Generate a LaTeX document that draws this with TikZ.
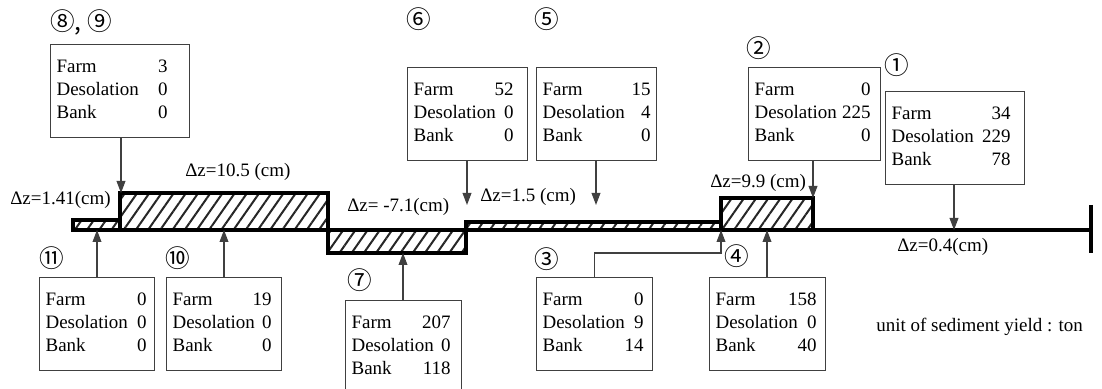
\documentclass[tikz,border=0pt]{standalone}
\usepackage{fontspec}
\setmainfont{Liberation Serif}
\newfontfamily\circfont{Noto Sans CJK SC}
\usetikzlibrary{arrows.meta, patterns.meta}
\newdimen\pxu \pxu=0.25mm
\definecolor{boxline}{HTML}{404040}
\definecolor{hatchcolor}{HTML}{262626}
% one line of a yield table: width, right pad, name, value
\newcommand{\yrow}[4]{\hbox to #1\pxu{#3\hfill #4\hspace*{#2\pxu}}}
% sediment yield table: width, right pad, farm, desolation, bank
\newcommand{\yield}[5]{\begin{tabular}{@{}l@{}}\yrow{#1}{#2}{Farm}{#3}\\\yrow{#1}{#2}{Desolation}{#4}\\\yrow{#1}{#2}{Bank}{#5}\end{tabular}}

\begin{document}
\begin{tikzpicture}[
    x=0.25mm, y=-0.25mm,
    yieldbox/.style={draw=boxline, line width=0.3mm, anchor=north west,
        inner xsep=1.5mm, inner ysep=0pt, minimum height=23.25mm,
        font=\fontsize{13.5}{16.36}\selectfont},
    numlabel/.style={inner sep=0pt, font=\circfont\fontsize{17.5}{20}\selectfont},
    dzlabel/.style={anchor=west, inner sep=0pt, font=\fontsize{13.5}{16}\selectfont},
    yarrow/.style={draw=boxline, line width=0.3mm, -{Triangle[length=3mm, width=2.2mm]}},
    block/.style={line width=0.9mm, line join=miter, pattern color=hatchcolor,
        pattern={Lines[angle=55, distance=2.5mm, line width=0.5mm]}},
    bed/.style={line width=0.9mm}
]
    % Frame
    \useasboundingbox (0,0) rectangle (1102,389);

    % Bed profile with hatched level changes
    \draw[block] (73,220) rectangle (120,230);
    \draw[block] (120,193) rectangle (328,230);
    \draw[block] (328,230) rectangle (466,253);
    \draw[block] (466,222) rectangle (721,230);
    \draw[block] (721,198) rectangle (813,230);
    \draw[bed] (73,230) -- (1091,230);
    \draw[bed] (1091,205) -- (1091,253);

    % Level change labels
    \node[dzlabel] (dz11) at (10,200) {Δz=1.41(cm)};
    \node[dzlabel] (dz89) at (185,172) {Δz=10.5 (cm)};
    \node[dzlabel] (dz7) at (347,207) {Δz= -7.1(cm)};
    \node[dzlabel] (dz5) at (480,197) {Δz=1.5 (cm)};
    \node[dzlabel] (dz2) at (710,183) {Δz=9.9 (cm)};
    \node[dzlabel] (dz1) at (897,247) {Δz=0.4(cm)};
    \node[dzlabel] (unit) at (876,327) {unit of sediment yield : ton};

    % Yield boxes above the bed
    \node[yieldbox] (b89) at (50,44) {\yield{127}{16}{3}{0}{0}};
    \node[yieldbox] (b6) at (407,67) {\yield{108}{8}{52}{0}{0}};
    \node[yieldbox] (b5) at (536,67) {\yield{108}{0}{15}{4}{0}};
    \node[yieldbox] (b2) at (748,67) {\yield{120}{4}{0}{225}{0}};
    \node[yieldbox] (b1) at (885,91) {\yield{127}{8}{34}{229}{78}};

    % Yield boxes below the bed
    \node[yieldbox] (b11) at (39,277) {\yield{103}{2}{0}{0}{0}};
    \node[yieldbox] (b10) at (166,277) {\yield{103}{4}{19}{0}{0}};
    \node[yieldbox] (b7) at (345,300) {\yield{104}{5}{207}{0}{118}};
    \node[yieldbox] (b3) at (536,277) {\yield{104}{3}{0}{9}{14}};
    \node[yieldbox] (b4) at (709,277) {\yield{104}{3}{158}{0}{40}};

    % Circled numbers
    \node[numlabel] (n89) at (81,22) {⑧, ⑨};
    \node[numlabel] (n6) at (419,19) {⑥};
    \node[numlabel] (n5) at (547,19) {⑤};
    \node[numlabel] (n2) at (759,48) {②};
    \node[numlabel] (n1) at (897,65) {①};
    \node[numlabel] (n11) at (52,258) {⑪};
    \node[numlabel] (n10) at (178,258) {⑩};
    \node[numlabel] (n7) at (360,280) {⑦};
    \node[numlabel] (n3) at (547,259) {③};
    \node[numlabel] (n4) at (737,256) {④};

    % Arrow ends on the bed
    \coordinate (p89) at (121,193);
    \coordinate (p6) at (467,205);
    \coordinate (p5) at (596,205);
    \coordinate (p2) at (813,198);
    \coordinate (p1) at (954,230);
    \coordinate (p11) at (97,230);
    \coordinate (p10) at (224,230);
    \coordinate (p7) at (403,253);
    \coordinate (k3) at (721,253);
    \coordinate (p3) at (721,230);
    \coordinate (p4) at (767,230);

    % Arrows
    \draw[yarrow] (b89.south -| p89) -- (p89);
    \draw[yarrow] (b6.south -| p6) -- (p6);
    \draw[yarrow] (b5.south -| p5) -- (p5);
    \draw[yarrow] (b2.south -| p2) -- (p2);
    \draw[yarrow] (b1.south -| p1) -- (p1);
    \draw[yarrow] (b11.north -| p11) -- (p11);
    \draw[yarrow] (b10.north -| p10) -- (p10);
    \draw[yarrow] (b7.north -| p7) -- (p7);
    \draw[yarrow] (b3.north) |- (k3) -- (p3);
    \draw[yarrow] (b4.north -| p4) -- (p4);

\end{tikzpicture}
\end{document}
